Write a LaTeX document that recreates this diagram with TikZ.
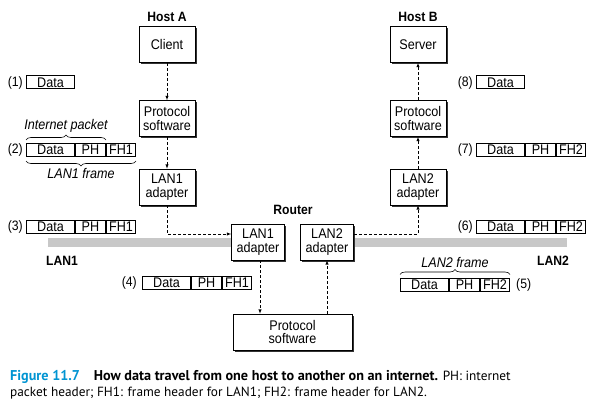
\documentclass[tikz,border=0pt]{standalone}
\usepackage{fontspec}
\setmainfont{Liberation Sans}[FakeStretch=0.9]
\newfontfamily\capfont{PT Sans}
\usetikzlibrary{positioning,shadows,arrows,decorations.pathreplacing}
\definecolor{figblue}{RGB}{0,148,210}
\definecolor{langray}{RGB}{200,200,200}
\tikzset{
	box/.style={draw,fill=white,line width=0.6pt,minimum width=56pt,minimum height=36pt,align=center,inner sep=1pt,font=\fontsize{14}{13.5}\selectfont,drop shadow={shadow xshift=1.5pt,shadow yshift=-1.5pt,fill=black!80,opacity=1}},
	cell/.style={draw,line width=1pt,minimum height=13pt,inner sep=0pt,font=\fontsize{14}{14}\selectfont},
	num/.style={inner sep=1pt,font=\fontsize{13.6}{14}\selectfont},
	hdr/.style={inner sep=1pt,font=\fontsize{13.5}{14}\selectfont\bfseries},
	lbl/.style={inner sep=1pt,font=\fontsize{14}{14}\selectfont\itshape},
	flow/.style={-latex,densely dashed,line width=0.5pt},
	brc/.style={decorate,decoration={brace,amplitude=5pt},line width=0.6pt}
}
\begin{document}
\begin{tikzpicture}[x=1pt,y=-1pt]
		\useasboundingbox (0,0) rectangle (604,406);
		% the two LANs
		\fill[langray] (48,238) rectangle (236,247);
		\fill[langray] (352,238) rectangle (567,247);
		\node[hdr] (lan1) at (62,261) {LAN1};
		\node[hdr] (lan2) at (553,261) {LAN2};
		% host A
		\node[box] (client) at (167,44.5) {Client};
		\node[box] (protoA) at (167,118.5) {Protocol\\software};
		\node[box] (adA) at (167,187) {LAN1\\adapter};
		\node[hdr,above=3pt of client] (hostA) {Host A};
		% host B
		\node[box] (server) at (418,44.5) {Server};
		\node[box] (protoB) at (418,118.5) {Protocol\\software};
		\node[box] (adB) at (418,187) {LAN2\\adapter};
		\node[hdr,above=3pt of server] (hostB) {Host B};
		% router
		\node[box,minimum width=53pt] (rad1) at (258,242) {LAN1\\adapter};
		\node[box,minimum width=53pt] (rad2) at (327,242) {LAN2\\adapter};
		\node[box,minimum width=119pt] (rproto) at (292.5,332) {Protocol\\software};
		\node[hdr] (router) at (293,210) {Router};
		% data path
		\draw[flow] (client) -- (protoA);
		\draw[flow] (protoA) -- (adA);
		\draw[flow] (adA.south) |- ([yshift=8pt]rad1.west);
		\draw[flow] ([xshift=2pt]rad1.south) -- ([xshift=2pt]rad1.south |- rproto.north);
		\draw[flow] (rad2.south |- rproto.north) -- (rad2.south);
		\draw[flow] ([yshift=8pt]rad2.east) -| (adB.south);
		\draw[flow] (adB) -- (protoB);
		\draw[flow] (protoB) -- (server);
		% (1)
		\node[cell,minimum width=48pt,anchor=west] (d1) at (26,82.5) {Data};
		\node[num,left=2pt of d1] {(1)};
		% (2)
		\node[cell,minimum width=48pt,anchor=west] (d2) at (26,150) {Data};
		\node[cell,minimum width=30pt,right=0pt of d2] (p2) {PH};
		\node[cell,minimum width=29pt,right=0pt of p2] (f2) {FH1};
		\node[num,left=2pt of d2] {(2)};
		\draw[brc] ([yshift=3pt]d2.north west) -- ([yshift=3pt]p2.north east) node[lbl,midway,above=6pt] (ipkt) {Internet packet};
		\draw[brc] ([yshift=-4pt]f2.south east) -- ([yshift=-4pt]d2.south west) node[lbl,midway,below=6pt] (lf1) {LAN1 frame};
		% (3)
		\node[cell,minimum width=48pt,anchor=west] (d3) at (26,227) {Data};
		\node[cell,minimum width=30pt,right=0pt of d3] (p3) {PH};
		\node[cell,minimum width=29pt,right=0pt of p3] (f3) {FH1};
		\node[num,left=2pt of d3] {(3)};
		% (4)
		\node[cell,minimum width=48pt,anchor=west] (d4) at (142,282.5) {Data};
		\node[cell,minimum width=30pt,right=0pt of d4] (p4) {PH};
		\node[cell,minimum width=29pt,right=0pt of p4] (f4) {FH1};
		\node[num,left=4pt of d4] {(4)};
		% (5)
		\node[cell,minimum width=48pt,anchor=west] (d5) at (400,284.5) {Data};
		\node[cell,minimum width=30pt,right=0pt of d5] (p5) {PH};
		\node[cell,minimum width=29pt,right=0pt of p5] (f5) {FH2};
		\node[num,right=5pt of f5] {(5)};
		\draw[brc] ([yshift=3pt]d5.north west) -- ([yshift=3pt]f5.north east) node[lbl,midway,above=6pt] (lf2) {LAN2 frame};
		% (6)
		\node[cell,minimum width=48pt,anchor=west] (d6) at (476,227) {Data};
		\node[cell,minimum width=30pt,right=0pt of d6] (p6) {PH};
		\node[cell,minimum width=29pt,right=0pt of p6] (f6) {FH2};
		\node[num,left=2pt of d6] {(6)};
		% (7)
		\node[cell,minimum width=48pt,anchor=west] (d7) at (476,150) {Data};
		\node[cell,minimum width=30pt,right=0pt of d7] (p7) {PH};
		\node[cell,minimum width=29pt,right=0pt of p7] (f7) {FH2};
		\node[num,left=2pt of d7] {(7)};
		% (8)
		\node[cell,minimum width=48pt,anchor=west] (d8) at (476,82.5) {Data};
		\node[num,left=2pt of d8] {(8)};
		% caption
		\node[anchor=west,inner sep=0pt,font=\capfont\fontsize{13.3}{15}\selectfont] (cap1) at (10,377) {{\fontsize{14.2}{15}\selectfont\color{figblue}\bfseries Figure 11.7}\hspace{14pt}{\fontsize{14.2}{15}\selectfont\bfseries How data travel from one host to another on an internet.} PH: internet};
		\node[anchor=west,inner sep=0pt,font=\capfont\fontsize{13.3}{15}\selectfont] (cap2) at (10,393) {packet header; FH1: frame header for LAN1; FH2: frame header for LAN2.};
	\end{tikzpicture}
\end{document}
